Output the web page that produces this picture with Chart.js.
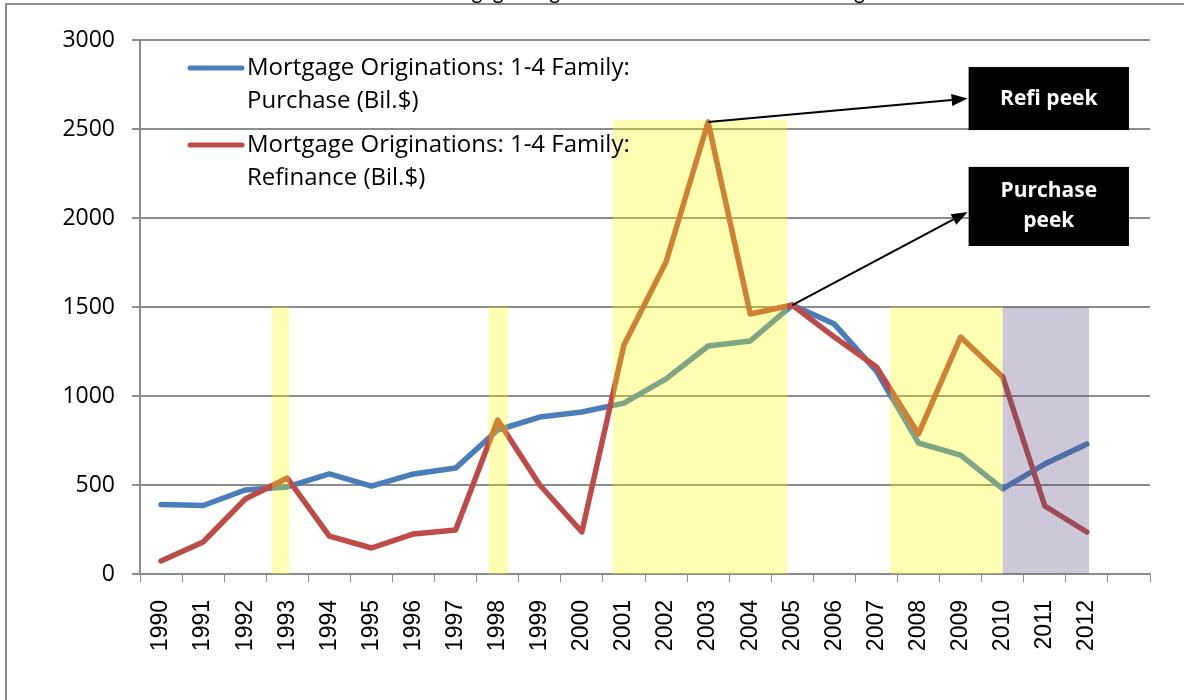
<!DOCTYPE html>
<html>
<head>
<meta charset="utf-8">
<script src="https://cdn.jsdelivr.net/npm/chart.js@4.4.1/dist/chart.umd.min.js"></script>
<style>
html, body { margin: 0; padding: 0; background: #fff; }
#wrap { position: relative; width: 1184px; height: 700px; }
</style>
</head>
<body>
<div id="wrap"><canvas id="mortgageChart" width="1184" height="700"></canvas></div>
<script>
// Data
var years = ['1990', '1991', '1992', '1993', '1994', '1995', '1996', '1997', '1998', '1999',
             '2000', '2001', '2002', '2003', '2004', '2005', '2006', '2007', '2008', '2009',
             '2010', '2011', '2012', ''];
var purchase  = [390, 385, 472, 489, 562, 494, 562, 595, 809, 882, 910, 960, 1096, 1281, 1309, 1511,
                 1404, 1140, 736, 668, 478, 618, 730];
var refinance = [73, 180, 421, 539, 213, 146, 225, 247, 865, 500, 236, 1287, 1753, 2539, 1461, 1511,
                 1331, 1163, 787, 1331, 1107, 382, 236];
var yTicks = [0, 500, 1000, 1500, 2000, 2500, 3000];

// Highlighted periods (category index units) and how high they reach
var shadeStart = [2.64, 7.79, 10.74, 17.33, 20.0];
var shadeEnd   = [3.05, 8.24, 14.88, 20.0, 22.05];
var shadeTop   = [1500, 1500, 2550, 1500, 1500];
var shadeKind  = ['yellow', 'yellow', 'yellow', 'yellow', 'purple'];

var titleText = 'Mortgage Originations: Purchase vs Refinancing';
var purchaseLabel = ['Mortgage Originations: 1-4 Family:', 'Purchase (Bil.$)'];
var refinanceLabel = ['Mortgage Originations: 1-4 Family:', 'Refinance (Bil.$)'];

var BLUE = '#4A7EBB';
var RED = '#BE4B48';
var GRID = '#8c8c8c';

// boxes are placed in data units so they follow the scales
var callouts = [
    { lines: ['Refi peek'], x0: 19.19, x1: 23.0, yTop: 2848, yBot: 2494, from: 'refi', arrowY: 0.5 },
    { lines: ['Purchase', 'peek'], x0: 19.19, x1: 23.0, yTop: 2287, yBot: 1843, from: 'purchase', arrowY: 0.57 }
];

var shadePlugin = {
    id: 'shade',
    afterDatasetsDraw: function(chart) {
        var ctx = chart.ctx, xs = chart.scales.x, ys = chart.scales.y;
        ctx.save();
        for (var i = 0; i < shadeStart.length; i++) {
            var x0 = xs.getPixelForValue(shadeStart[i]);
            var x1 = xs.getPixelForValue(shadeEnd[i]);
            var y0 = ys.getPixelForValue(shadeTop[i]);
            var y1 = ys.getPixelForValue(0);
            ctx.fillStyle = shadeKind[i] === 'purple' ? 'rgba(88,72,122,0.3)' : 'rgba(255,255,0,0.3)';
            ctx.fillRect(x0, y0, x1 - x0, y1 - y0);
        }
        ctx.restore();
    }
};

function arrow(ctx, x0, y0, x1, y1) {
    var ang = Math.atan2(y1 - y0, x1 - x0);
    var len = 16, w = 6;
    ctx.beginPath();
    ctx.moveTo(x0, y0);
    ctx.lineTo(x1 - Math.cos(ang) * len, y1 - Math.sin(ang) * len);
    ctx.stroke();
    ctx.beginPath();
    ctx.moveTo(x1, y1);
    ctx.lineTo(x1 - Math.cos(ang) * len - Math.sin(ang) * w, y1 - Math.sin(ang) * len + Math.cos(ang) * w);
    ctx.lineTo(x1 - Math.cos(ang) * len + Math.sin(ang) * w, y1 - Math.sin(ang) * len - Math.cos(ang) * w);
    ctx.closePath();
    ctx.fill();
}

var decorPlugin = {
    id: 'decor',
    afterDraw: function(chart) {
        var ctx = chart.ctx, xs = chart.scales.x, ys = chart.scales.y;
        ctx.save();

        // outer frame
        ctx.strokeStyle = GRID;
        ctx.lineWidth = 2;
        ctx.strokeRect(6, 4, 1220, 720);

        // title, mostly cut off by the top edge
        ctx.fillStyle = '#000';
        ctx.font = '21px Lato';
        ctx.textAlign = 'center';
        ctx.textBaseline = 'alphabetic';
        ctx.fillText(titleText, 645, -1);

        // legend
        var entries = [[purchaseLabel, BLUE, 68], [refinanceLabel, RED, 145]];
        ctx.textAlign = 'left';
        ctx.textBaseline = 'middle';
        entries.forEach(function(e) {
            ctx.strokeStyle = e[1];
            ctx.lineWidth = 5;
            ctx.lineCap = 'round';
            ctx.beginPath();
            ctx.moveTo(190, e[2]);
            ctx.lineTo(242, e[2]);
            ctx.stroke();
            ctx.fillStyle = '#000';
            ctx.font = '24px "Open Sans"';
            ctx.fillText(e[0][0], 247, e[2]);
            ctx.fillText(e[0][1], 247, e[2] + 33);
        });

        // callout boxes with arrows
        callouts.forEach(function(c) {
            var bx0 = xs.getPixelForValue(c.x0), bx1 = xs.getPixelForValue(c.x1);
            var by0 = ys.getPixelForValue(c.yTop), by1 = ys.getPixelForValue(c.yBot);
            var src = c.from === 'refi' ? refinance : purchase;
            var peak = src.indexOf(Math.max.apply(null, src));
            var px = xs.getPixelForValue(peak), py = ys.getPixelForValue(src[peak]);
            ctx.strokeStyle = '#000';
            ctx.fillStyle = '#000';
            ctx.lineWidth = 2;
            ctx.lineCap = 'butt';
            arrow(ctx, px, py, bx0 - 1, by0 + (by1 - by0) * c.arrowY);
            ctx.fillRect(bx0, by0, bx1 - bx0, by1 - by0);
            ctx.fillStyle = '#fff';
            ctx.font = 'bold 21px "Open Sans"';
            ctx.textAlign = 'center';
            var cy = (by0 + by1) / 2 - (c.lines.length - 1) * 15;
            c.lines.forEach(function(t, k) {
                ctx.fillText(t, (bx0 + bx1) / 2, cy + k * 30);
            });
        });
        ctx.restore();
    }
};

var ctx = document.getElementById('mortgageChart').getContext('2d');
var chart = new Chart(ctx, {
    type: 'line',
    data: {
        labels: years,
        datasets: [{
            label: purchaseLabel.join(' '),
            data: purchase,
            borderColor: BLUE,
            borderWidth: 5.5,
            pointRadius: 0,
            tension: 0,
            borderCapStyle: 'round',
            borderJoinStyle: 'round',
            order: 1
        }, {
            label: refinanceLabel.join(' '),
            data: refinance,
            borderColor: RED,
            borderWidth: 5.5,
            pointRadius: 0,
            tension: 0,
            borderCapStyle: 'round',
            borderJoinStyle: 'round',
            order: 0
        }]
    },
    options: {
        responsive: false,
        animation: false,
        devicePixelRatio: 1,
        layout: { padding: { top: 40, right: 34, left: 0, bottom: 0 } },
        plugins: {
            legend: { display: false },
            tooltip: { enabled: false },
            title: { display: false }
        },
        scales: {
            x: {
                offset: true,
                grid: { offset: true, drawOnChartArea: false, drawTicks: true, tickLength: 8, color: GRID },
                border: { color: GRID, width: 2 },
                ticks: {
                    autoSkip: false,
                    maxRotation: 90,
                    minRotation: 90,
                    padding: 18,
                    color: '#000',
                    font: { family: 'Liberation Sans', size: 23 }
                },
                afterFit: function(scale) { scale.height = 126; }
            },
            y: {
                min: 0,
                max: 3000,
                afterBuildTicks: function(scale) {
                    scale.ticks = yTicks.map(function(v) { return { value: v }; });
                },
                grid: { color: GRID, lineWidth: 2, tickLength: 8 },
                border: { color: GRID, width: 2 },
                ticks: {
                    padding: 17,
                    color: '#000',
                    font: { family: 'Open Sans', size: 23 },
                    callback: function(v) { return String(v); }
                },
                afterFit: function(scale) { scale.width = 140; }
            }
        }
    },
    plugins: [shadePlugin, decorPlugin]
});
</script>
</body>
</html>
